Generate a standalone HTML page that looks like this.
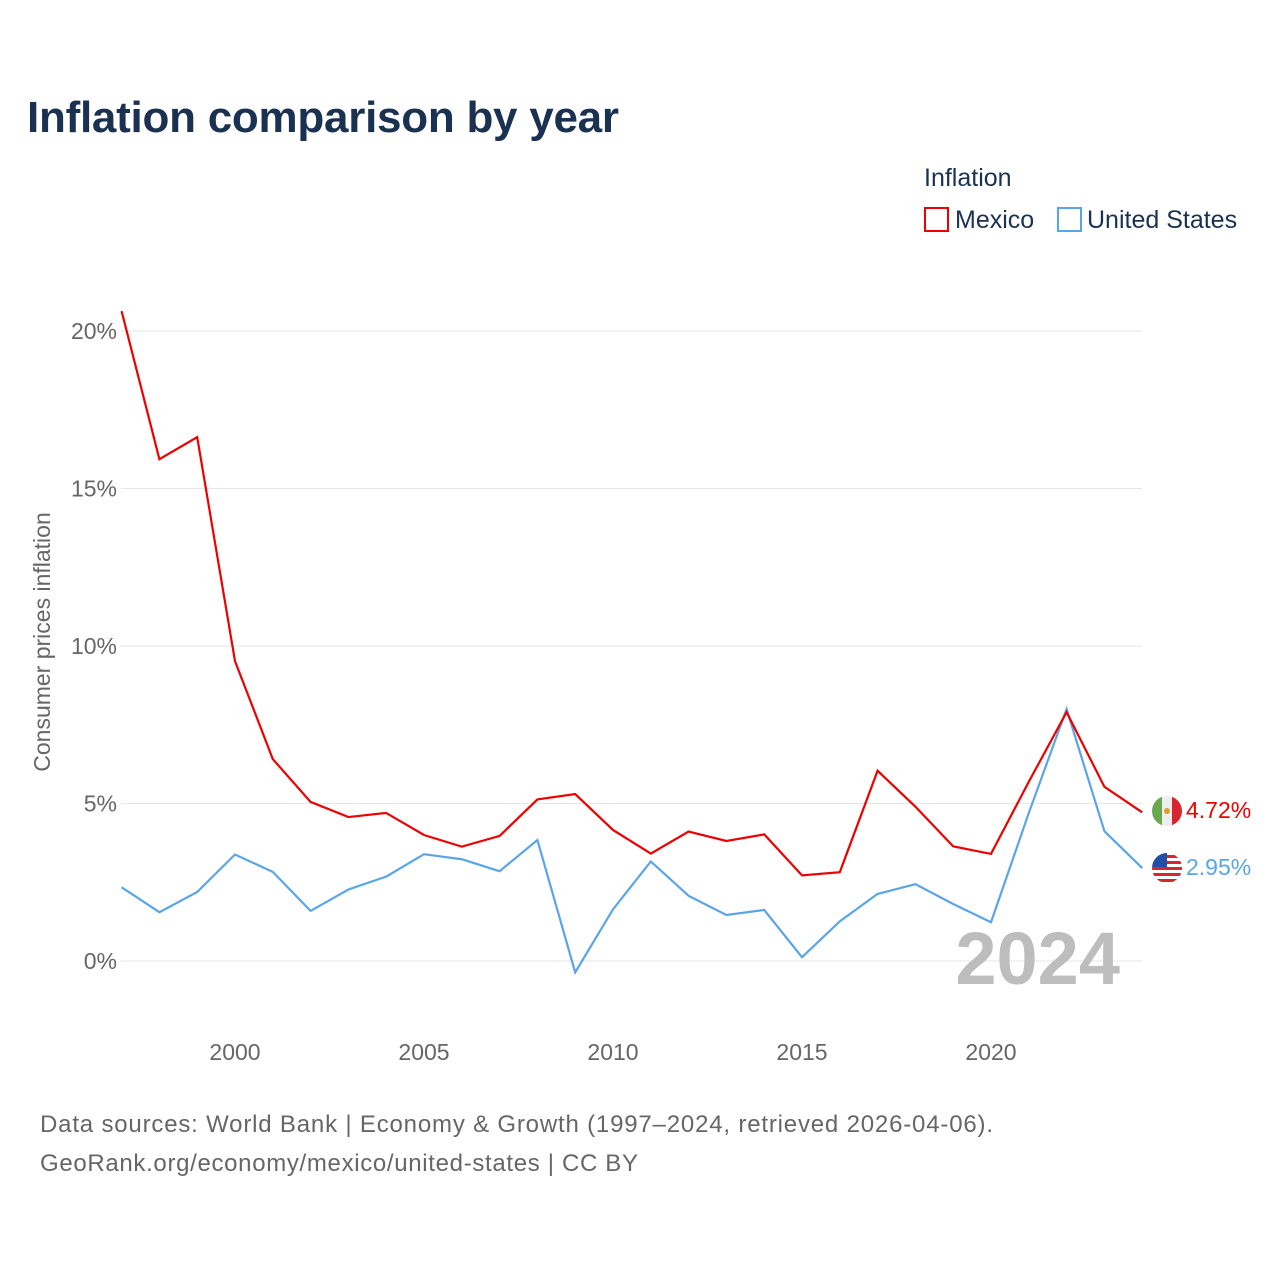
<!DOCTYPE html>
<html><head><meta charset="utf-8"><style>
body{margin:0;background:#fff;font-family:"Liberation Sans",sans-serif;}
</style></head><body>
<svg width="1280" height="1280" viewBox="0 0 1280 1280" xmlns="http://www.w3.org/2000/svg" font-family="Liberation Sans, sans-serif">
<text x="27" y="132" font-size="44" font-weight="bold" fill="#1a3152" textLength="592">Inflation comparison by year</text>
<text x="924" y="186" font-size="25" fill="#1a3152">Inflation</text>
<g><rect x="925" y="208" width="23" height="23" fill="none" stroke="#ee0000" stroke-width="2"/><text x="955" y="228" font-size="25" fill="#1a3152">Mexico</text></g>
<g><rect x="1058" y="208" width="23" height="23" fill="none" stroke="#5aa5e8" stroke-width="2"/><text x="1087" y="228" font-size="25" fill="#1a3152">United States</text></g>
<g id="grid"></g>
<g id="xt"></g>
<text transform="translate(50,642) rotate(-90)" text-anchor="middle" font-size="23" fill="#666">Consumer prices inflation</text>
<text x="1120" y="984" text-anchor="end" font-size="74" font-weight="bold" fill="#bdbdbd">2024</text>
<g id="lines"></g>
<g><clipPath id="cm"><circle cx="1167" cy="811" r="15"/></clipPath><g clip-path="url(#cm)"><rect x="1152" y="796" width="10" height="30" fill="#6aa84f"/><rect x="1162" y="796" width="10" height="30" fill="#eee"/><rect x="1172" y="796" width="10" height="30" fill="#d9262e"/><circle cx="1167" cy="811" r="3" fill="#e69a2e"/></g></g>
<g><clipPath id="cu"><circle cx="1167" cy="868" r="15"/></clipPath><g clip-path="url(#cu)"><rect x="1152" y="853" width="30" height="30" fill="#fff"/><rect x="1152" y="855" width="30" height="3" fill="#d9262e"/><rect x="1152" y="861" width="30" height="3" fill="#d9262e"/><rect x="1152" y="867" width="30" height="3" fill="#d9262e"/><rect x="1152" y="873" width="30" height="3" fill="#d9262e"/><rect x="1152" y="879" width="30" height="3" fill="#d9262e"/><rect x="1152" y="853" width="15" height="14" fill="#1f4fa8"/></g></g>
<text x="1186" y="818" font-size="23" fill="#ee0000">4.72%</text>
<text x="1186" y="875" font-size="23" fill="#5aa5e8">2.95%</text>
<text x="40" y="1132" font-size="24" fill="#666" textLength="953">Data sources: World Bank | Economy &amp; Growth (1997–2024, retrieved 2026-04-06).</text>
<text x="40" y="1171" font-size="24" fill="#666" textLength="598">GeoRank.org/economy/mexico/united-states | CC BY</text>
</svg>
<script>
const years=[1997,1998,1999,2000,2001,2002,2003,2004,2005,2006,2007,2008,2009,2010,2011,2012,2013,2014,2015,2016,2017,2018,2019,2020,2021,2022,2023,2024];
const mexico=[20.63,15.93,16.63,9.52,6.41,5.05,4.57,4.70,4.00,3.63,3.97,5.13,5.30,4.16,3.41,4.11,3.81,4.02,2.72,2.82,6.04,4.90,3.64,3.40,5.69,7.90,5.53,4.72];
const us=[2.34,1.55,2.19,3.38,2.83,1.59,2.27,2.68,3.39,3.23,2.85,3.84,-0.36,1.64,3.16,2.07,1.46,1.62,0.12,1.26,2.13,2.44,1.81,1.23,4.70,8.00,4.12,2.95];
const yTicks=[0,5,10,15,20];
const xTicks=[2000,2005,2010,2015,2020];
const NS="http://www.w3.org/2000/svg";
const x=v=>235+(v-2000)*37.8;
const y=v=>961-v*31.5;
const grid=document.getElementById('grid');
yTicks.forEach(t=>{
 const l=document.createElementNS(NS,'line');
 
 
 l.setAttribute('x1',121);l.setAttribute('x2',1142);l.setAttribute('y1',y(t));l.setAttribute('y2',y(t));
 l.setAttribute('stroke','#e6e6e6');grid.appendChild(l);
 const tx=document.createElementNS(NS,'text');
 
 
 tx.setAttribute('x',117);tx.setAttribute('y',y(t)+8);tx.setAttribute('text-anchor','end');
 tx.setAttribute('font-size','23');tx.setAttribute('fill','#666');tx.textContent=t+'%';grid.appendChild(tx);
});
const xt=document.getElementById('xt');
xTicks.forEach(t=>{
 const tx=document.createElementNS(NS,'text');
 
 
 tx.setAttribute('x',x(t));tx.setAttribute('y',1060);tx.setAttribute('text-anchor','middle');
 tx.setAttribute('font-size','23');tx.setAttribute('fill','#666');tx.textContent=t;xt.appendChild(tx);
});
const lines=document.getElementById('lines');
function draw(vals,col,name){
 const p=document.createElementNS(NS,'polyline');
 
 
 p.setAttribute('points',vals.map((v,i)=>x(years[i])+','+y(v)).join(' '));
 p.setAttribute('fill','none');p.setAttribute('stroke',col);p.setAttribute('stroke-width','2.2');
 lines.appendChild(p);
}
draw(us,'#5aa5e8','line-united-states');
draw(mexico,'#ee0000','line-mexico');
</script>
</body></html>
